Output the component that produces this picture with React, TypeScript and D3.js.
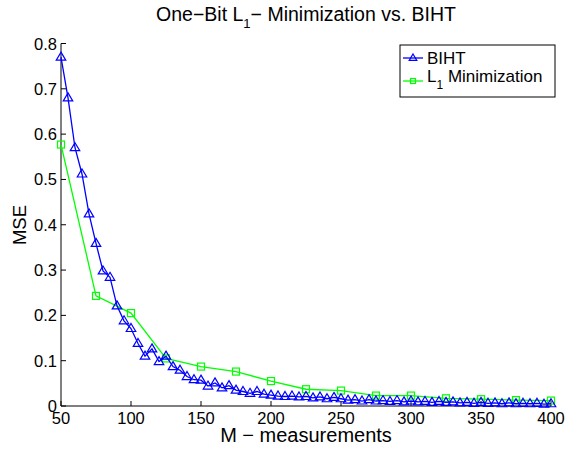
import React from "react";
import * as d3 from "d3";

const bihtX: number[] = d3.range(50, 401, 5);
const bihtY: number[] = [
  0.770, 0.680, 0.570, 0.512, 0.424, 0.359, 0.298, 0.284, 0.221, 0.188,
  0.171, 0.138, 0.110, 0.126, 0.098, 0.110, 0.087, 0.079, 0.065, 0.058,
  0.057, 0.044, 0.051, 0.040, 0.045, 0.035, 0.032, 0.028, 0.032, 0.026,
  0.024, 0.022, 0.021, 0.022, 0.020, 0.021, 0.018, 0.020, 0.016, 0.019,
  0.016, 0.013, 0.014, 0.011, 0.014, 0.011, 0.012, 0.010, 0.012, 0.009,
  0.011, 0.009, 0.010, 0.008, 0.010, 0.008, 0.009, 0.007, 0.008, 0.006,
  0.008, 0.006, 0.007, 0.005, 0.007, 0.005, 0.006, 0.005, 0.006, 0.004,
  0.005,
];
const l1X: number[] = [50, 75, 100, 125, 150, 175, 200, 225, 250, 275, 300, 325, 350, 375, 400];
const l1Y: number[] = [0.577, 0.243, 0.205, 0.105, 0.087, 0.076, 0.055, 0.037, 0.034, 0.023, 0.023, 0.017, 0.015, 0.013, 0.012];
const xTicks: number[] = [50, 100, 150, 200, 250, 300, 350, 400];
const yTicks: number[] = [0, 0.1, 0.2, 0.3, 0.4, 0.5, 0.6, 0.7, 0.8];

const W = 566, H = 449;
const L = 61, R = 551, T = 43.5, B = 406;
const FONT = "Liberation Sans, Arial, Helvetica, sans-serif";
const BLUE = "#0000ff";
const GREEN = "#00ff00";

function tri(x: number, y: number, s: number) {
  return `M${x},${y - s}L${x + s * 0.95},${y + s * 0.6}L${x - s * 0.95},${y + s * 0.6}Z`;
}

export default function App() {
  const x = d3.scaleLinear().domain([50, 400]).range([L, R]);
  const y = d3.scaleLinear().domain([0, 0.8]).range([B, T]);
  const line = d3.line<[number, number]>().x(d => x(d[0])).y(d => y(d[1]));
  const bihtPts: [number, number][] = bihtX.map((v, i) => [v, bihtY[i]]);
  const l1Pts: [number, number][] = l1X.map((v, i) => [v, l1Y[i]]);

  return (
    <svg width={W} height={H} style={{ position: "absolute", left: 0, top: 0, background: "#fff" }} fontFamily={FONT}>
      <rect x={0} y={0} width={W} height={H} fill="#fff" />
      {/* title */}
      <text x={306} y={21} textAnchor="middle" fontSize={19.5} fill="#000">
        One−Bit L<tspan fontSize={13} dy={7}>1</tspan><tspan dy={-7}>− Minimization vs. BIHT</tspan>
      </text>
      {/* axes */}
      <line x1={L} y1={B} x2={R} y2={B} stroke="#000" strokeWidth={1} />
      <line x1={L} y1={B} x2={L} y2={T} stroke="#000" strokeWidth={1} />
      {xTicks.map(t => (
        <g key={"x" + t}>
          <line x1={x(t)} x2={x(t)} y1={B} y2={B - 5} stroke="#000" />
          <text x={x(t)} y={424} textAnchor="middle" fontSize={16.5} fill="#000">{t}</text>
        </g>
      ))}
      {yTicks.map(t => (
        <g key={"y" + t}>
          <line x1={L} x2={L + 5} y1={y(t)} y2={y(t)} stroke="#000" />
          <text x={57} y={y(t) + 6} textAnchor="end" fontSize={16.5} fill="#000">{t === 0 ? "0" : t.toFixed(1)}</text>
        </g>
      ))}
      <text x={306} y={442} textAnchor="middle" fontSize={20} fill="#000">M − measurements</text>
      <text transform="translate(25.5,225) rotate(-90)" textAnchor="middle" fontSize={18.5} fill="#000">MSE</text>
      {/* series */}
      <path d={line(l1Pts) || ""} fill="none" stroke={GREEN} strokeWidth={1.3} />
      {l1Pts.map((p, i) => (
        <rect key={"s" + i} x={x(p[0]) - 3.5} y={y(p[1]) - 3.5} width={7} height={7} fill="none" stroke={GREEN} strokeWidth={1.2} />
      ))}
      <path d={line(bihtPts) || ""} fill="none" stroke={BLUE} strokeWidth={1.3} />
      {bihtPts.map((p, i) => (
        <path key={"t" + i} d={tri(x(p[0]), y(p[1]), 5)} fill="none" stroke={BLUE} strokeWidth={1.2} />
      ))}
      {/* legend */}
      <rect x={400} y={45} width={155} height={52} fill="#fff" stroke="#000" strokeWidth={1} />
      <line x1={403} x2={423} y1={58} y2={58} stroke={BLUE} strokeWidth={1.3} />
      <path d={tri(413, 58, 4)} fill="none" stroke={BLUE} strokeWidth={1.2} />
      <text x={427} y={64} fontSize={17} fill="#000">BIHT</text>
      <line x1={403} x2={423} y1={81} y2={81} stroke={GREEN} strokeWidth={1.3} />
      <rect x={410.5} y={78.5} width={5} height={5} fill="none" stroke={GREEN} strokeWidth={1.2} />
      <text x={427} y={82} fontSize={17} fill="#000">
        L<tspan fontSize={12} dy={7}>1</tspan><tspan dy={-7}> Minimization</tspan>
      </text>
    </svg>
  );
}
